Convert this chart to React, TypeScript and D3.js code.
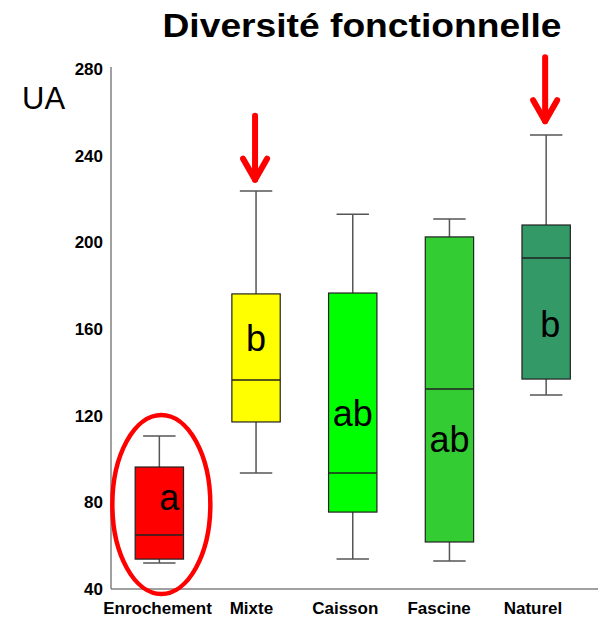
import React from "react";
import * as d3 from "d3";

const categories = ["Enrochement", "Mixte", "Caisson", "Fascine", "Naturel"];
const whiskerLow = [52, 93.5, 53.8, 52.9, 129.5];
const q1 = [53.8, 117.1, 75.5, 61.7, 136.9];
const medians = [64.9, 136.5, 93.5, 132.3, 192.8];
const q3 = [96.3, 176.2, 176.6, 202.5, 208];
const whiskerHigh = [110.6, 223.7, 213, 210.8, 249.5];
const fills = ["#FF0000", "#FFFF00", "#00FF00", "#33CC33", "#339966"];
const groupLetters = ["a", "b", "ab", "ab", "b"];
const letterValues = [76.5, 149.8, 115.2, 103.2, 156.3];
const letterOffsets = [10, 0, 0, 0, 4];
const yTicks = [40, 80, 120, 160, 200, 240, 280];
const arrowCategories = ["Mixte", "Naturel"];
const arrowTipValues = [228, 255];

const W = 598;
const H = 618;

export default function App() {
  const x = d3.scaleBand<string>().domain(categories).range([111, 594.5]).padding(0);
  const xLabel = d3.scalePoint<string>().domain(categories).range([157.5, 533]);
  const y = d3.scaleLinear().domain([40, 280]).range([589, 69]);
  const bw = x.bandwidth() * 0.5;
  const capW = bw * 0.67;
  const font = "'Liberation Sans', Arial, sans-serif";

  return (
    <svg width={W} height={H} style={{ position: "absolute", left: 0, top: 0, background: "#fff" }} fontFamily={font}>
      <text x={362} y={37} textAnchor="middle" fontSize={33} fontWeight="bold" textLength={399} lengthAdjust="spacingAndGlyphs">
        Diversité fonctionnelle
      </text>
      <text x={22} y={109} fontSize={31}>UA</text>

      {/* axes */}
      <line x1={111} x2={111} y1={67} y2={589} stroke="#808080" strokeWidth={1.5} />
      <line x1={111} x2={598} y1={589} y2={589} stroke="#808080" strokeWidth={1.5} />
      {yTicks.map((t) => (
        <text key={t} x={103} y={y(t)} dy="0.36em" textAnchor="end" fontSize={17} fontWeight="bold">
          {t}
        </text>
      ))}
      {categories.map((c) => (
        <text key={c} x={xLabel(c)} y={614} textAnchor="middle" fontSize={17} fontWeight="bold">
          {c}
        </text>
      ))}

      {categories.map((c, i) => {
        const cx = (x(c) as number) + x.bandwidth() / 2;
        return (
          <g key={c}>
            <line x1={cx} x2={cx} y1={y(whiskerHigh[i])} y2={y(q3[i])} stroke="#555" strokeWidth={1.5} />
            <line x1={cx} x2={cx} y1={y(q1[i])} y2={y(whiskerLow[i])} stroke="#555" strokeWidth={1.5} />
            <line x1={cx - capW / 2} x2={cx + capW / 2} y1={y(whiskerHigh[i])} y2={y(whiskerHigh[i])} stroke="#555" strokeWidth={1.5} />
            <line x1={cx - capW / 2} x2={cx + capW / 2} y1={y(whiskerLow[i])} y2={y(whiskerLow[i])} stroke="#555" strokeWidth={1.5} />
            <rect x={cx - bw / 2} y={y(q3[i])} width={bw} height={y(q1[i]) - y(q3[i])} fill={fills[i]} stroke="#222" strokeWidth={1.2} />
            <line x1={cx - bw / 2} x2={cx + bw / 2} y1={y(medians[i])} y2={y(medians[i])} stroke="#222" strokeWidth={1.5} />
            <text x={cx + letterOffsets[i]} y={y(letterValues[i])} textAnchor="middle" fontSize={36} fill="#000">
              {groupLetters[i]}
            </text>
          </g>
        );
      })}

      {/* red ellipse around Enrochement */}
      <ellipse
        cx={(x("Enrochement") as number) + x.bandwidth() / 2 + 2}
        cy={504.5}
        rx={49}
        ry={89.5}
        fill="none"
        stroke="#FF0000"
        strokeWidth={4.5}
      />

      {/* arrows */}
      {arrowCategories.map((c, i) => {
        const cx = (x(c) as number) + x.bandwidth() / 2 - 1;
        const tip = y(arrowTipValues[i]);
        const top = tip - 66;
        return (
          <g key={c} stroke="#FF0000" strokeWidth={6} fill="none" strokeLinecap="round" strokeLinejoin="round">
            <line x1={cx} x2={cx} y1={top} y2={tip - 2} />
            <polyline points={`${cx - 12},${tip - 23} ${cx},${tip - 2} ${cx + 12},${tip - 23}`} />
          </g>
        );
      })}
    </svg>
  );
}
